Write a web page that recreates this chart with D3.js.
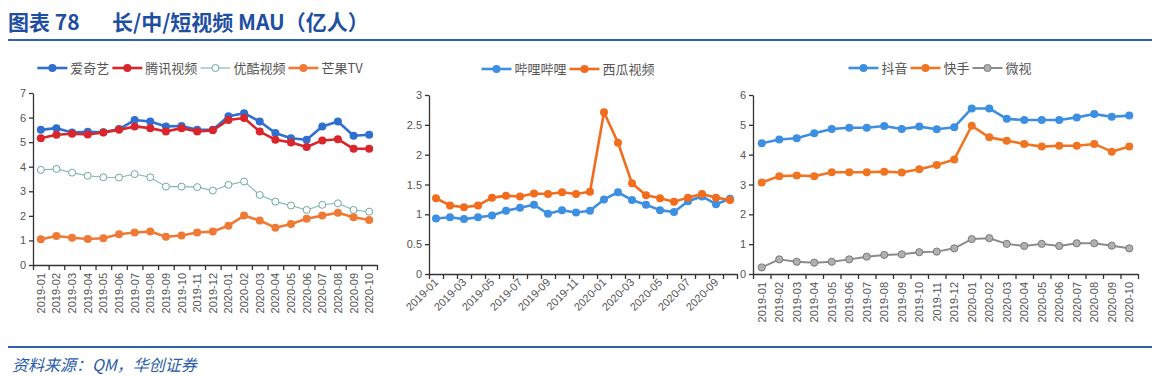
<!DOCTYPE html>
<html>
<head>
<meta charset="utf-8">
<script src="https://cdn.jsdelivr.net/npm/d3@7"></script>
<style>
  html, body { margin: 0; padding: 0; background: #fff; }
  svg { display: block; }
  .axis path, .axis line { stroke: #333; stroke-width: 1.3; }
  .axis text { fill: #555; font-family: "Liberation Sans", Arial, sans-serif; font-size: 11px; }
  .lg text { font-family: "Noto Sans CJK SC", sans-serif; font-size: 13px; fill: #555; }
</style>
</head>
<body>
<div id="chart"></div>
<script>
// 月份 (2019-01 .. 2020-10)
const months = ["2019-01","2019-02","2019-03","2019-04","2019-05","2019-06","2019-07","2019-08","2019-09","2019-10","2019-11","2019-12",
  "2020-01","2020-02","2020-03","2020-04","2020-05","2020-06","2020-07","2020-08","2020-09","2020-10"];

// 长视频
const iqiyi   = [5.50,5.57,5.39,5.42,5.40,5.53,5.90,5.84,5.64,5.66,5.50,5.50,6.05,6.18,5.84,5.37,5.16,5.10,5.64,5.84,5.26,5.30];
const tencent = [5.16,5.30,5.34,5.31,5.39,5.50,5.64,5.57,5.43,5.57,5.43,5.48,5.90,5.98,5.43,5.10,4.99,4.80,5.07,5.12,4.73,4.73];
const youku   = [3.87,3.91,3.76,3.63,3.57,3.56,3.70,3.57,3.19,3.19,3.17,3.03,3.26,3.40,2.85,2.58,2.42,2.24,2.45,2.51,2.24,2.17];
const mango   = [1.05,1.18,1.11,1.06,1.09,1.25,1.32,1.36,1.15,1.20,1.32,1.36,1.60,2.01,1.81,1.52,1.67,1.88,2.01,2.13,1.94,1.83];
// 中视频
const bili    = [0.93,0.95,0.92,0.95,0.98,1.06,1.11,1.16,1.01,1.07,1.03,1.06,1.25,1.37,1.24,1.16,1.07,1.04,1.22,1.30,1.17,1.26];
const xigua   = [1.27,1.15,1.12,1.15,1.28,1.31,1.30,1.35,1.34,1.37,1.34,1.38,2.71,2.20,1.52,1.32,1.27,1.21,1.28,1.34,1.28,1.24];
// 短视频
const douyin  = [4.38,4.51,4.55,4.72,4.86,4.90,4.90,4.96,4.86,4.94,4.85,4.92,5.55,5.55,5.20,5.16,5.16,5.16,5.25,5.36,5.27,5.31];
const kuaishou= [3.07,3.28,3.30,3.28,3.41,3.41,3.41,3.43,3.40,3.51,3.65,3.84,4.97,4.58,4.47,4.36,4.27,4.30,4.30,4.36,4.10,4.27];
const weishi  = [0.22,0.49,0.41,0.38,0.41,0.49,0.58,0.64,0.66,0.73,0.75,0.86,1.17,1.20,1.01,0.94,1.01,0.94,1.03,1.03,0.95,0.86];

const yTicks1 = [0,1,2,3,4,5,6,7];
const yTicks2 = [0,0.5,1,1.5,2,2.5,3];
const yTicks3 = [0,1,2,3,4,5,6];
const labels2 = months.filter((m, i) => i % 2 === 0);

const W = 1160, H = 376;
const svg = d3.select("#chart").append("svg").attr("width", W).attr("height", H);
svg.append("rect").attr("width", W).attr("height", H).attr("fill", "#fff");

// 标题
const blue = "#1f4f9f";
svg.append("text").attr("x", 8).attr("y", 30).attr("fill", blue)
  .style("font-family", "'Noto Sans CJK SC', sans-serif").style("font-size", "21px").style("font-weight", "bold")
  .text("图表 78");
svg.append("text").attr("x", 112).attr("y", 30).attr("fill", blue)
  .style("font-family", "'Noto Sans CJK SC', sans-serif").style("font-size", "21px").style("font-weight", "bold")
  .text("长/中/短视频 MAU（亿人）");
svg.append("line").attr("x1", 8).attr("x2", 1152).attr("y1", 40).attr("y2", 40)
  .attr("stroke", "#2f62ad").attr("stroke-width", 2.2);
svg.append("line").attr("x1", 8).attr("x2", 1152).attr("y1", 347).attr("y2", 347)
  .attr("stroke", "#2f62ad").attr("stroke-width", 2.2);
svg.append("text").attr("x", 12).attr("y", 371).attr("fill", "#2b5ca8")
  .style("font-family", "'Noto Sans CJK SC', sans-serif").style("font-size", "16px").style("font-style", "italic")
  .text("资料来源：QM，华创证券");

function chart(cfg) {
  const g = svg.append("g");
  const x = d3.scaleBand().domain(months).range([cfg.x0, cfg.x1]);
  const edge = d3.scaleLinear().domain([0, months.length]).range([cfg.x0, cfg.x1]);
  const y = d3.scaleLinear().domain([0, d3.max(cfg.yTicks)]).range([cfg.yb, cfg.yt]);
  const cx = d => x(d) + x.bandwidth() / 2;

  // y 轴
  g.append("g").attr("class", "axis").attr("transform", `translate(${cfg.x0},0)`)
    .call(d3.axisLeft(y).tickValues(cfg.yTicks).tickSize(4).tickSizeOuter(0).tickPadding(3).tickFormat(d => String(d)));
  // x 轴 (刻度在分类边界)
  g.append("g").attr("class", "axis").attr("transform", `translate(0,${cfg.yb})`)
    .call(d3.axisBottom(edge).tickValues(d3.range(months.length + 1)).tickSize(5).tickSizeOuter(0).tickFormat(""));

  const lab = g.append("g").attr("class", "axis");
  if (cfg.rot === -90) {
    lab.selectAll("text").data(months).join("text")
      .attr("transform", d => `translate(${cx(d) + 4},${cfg.yb + 8}) rotate(-90)`)
      .attr("text-anchor", "end").text(d => d);
  } else {
    lab.selectAll("text").data(labels2).join("text")
      .attr("transform", d => `translate(${cx(d) + 3},${cfg.yb + 9}) rotate(-45)`)
      .attr("text-anchor", "end").text(d => d);
  }

  // 折线
  cfg.series.forEach(s => {
    const line = d3.line().x((v, i) => cx(months[i])).y(v => y(v));
    g.append("path").datum(s.values).attr("d", line).attr("fill", "none")
      .attr("stroke", s.color).attr("stroke-width", s.lw).attr("stroke-linejoin", "round");
    g.append("g").selectAll("circle").data(s.values).join("circle")
      .attr("cx", (v, i) => cx(months[i])).attr("cy", v => y(v)).attr("r", s.r)
      .attr("fill", s.fill).attr("stroke", s.mstroke).attr("stroke-width", s.msw);
  });

  // 图例
  const lg = g.append("g").attr("class", "lg");
  let px = 0;
  cfg.series.forEach(s => {
    const it = lg.append("g").attr("transform", `translate(${px},0)`);
    it.append("line").attr("x1", 0).attr("x2", 30).attr("stroke", s.color).attr("stroke-width", s.lw);
    it.append("circle").attr("cx", 15).attr("r", s.r).attr("fill", s.fill).attr("stroke", s.mstroke).attr("stroke-width", s.msw);
    const t = it.append("text").attr("x", 33).attr("dy", "0.36em").text(s.name);
    px += 33 + t.node().getComputedTextLength() + 3;
  });
  lg.attr("transform", `translate(${cfg.lgc - (px - 3) / 2},${cfg.lgy})`);
}

const solid = (name, values, color) => ({ name, values, color, lw: 2.6, r: 4, fill: color, mstroke: color, msw: 0 });

chart({
  x0: 33, x1: 377, yt: 93, yb: 265, yTicks: yTicks1, rot: -90, lgc: 200, lgy: 68,
  series: [
    solid("爱奇艺", iqiyi, "#2f6fd0"),
    solid("腾讯视频", tencent, "#d8262b"),
    { name: "优酷视频", values: youku, color: "#7fb6ae", lw: 1.1, r: 3.5, fill: "#fff", mstroke: "#6fa8a0", msw: 1 },
    solid("芒果TV", mango, "#ef7a35")
  ]
});
chart({
  x0: 429, x1: 737, yt: 95, yb: 274, yTicks: yTicks2, rot: -45, lgc: 568, lgy: 69,
  series: [
    solid("哔哩哔哩", bili, "#3d8fe2"),
    solid("西瓜视频", xigua, "#f26c1e")
  ]
});
chart({
  x0: 753, x1: 1138, yt: 95, yb: 274, yTicks: yTicks3, rot: -90, lgc: 940, lgy: 68,
  series: [
    solid("抖音", douyin, "#3d8fe2"),
    solid("快手", kuaishou, "#f07522"),
    { name: "微视", values: weishi, color: "#8a8a8a", lw: 2, r: 3.6, fill: "#b0b0b0", mstroke: "#7a7a7a", msw: 1 }
  ]
});
</script>
</body>
</html>
